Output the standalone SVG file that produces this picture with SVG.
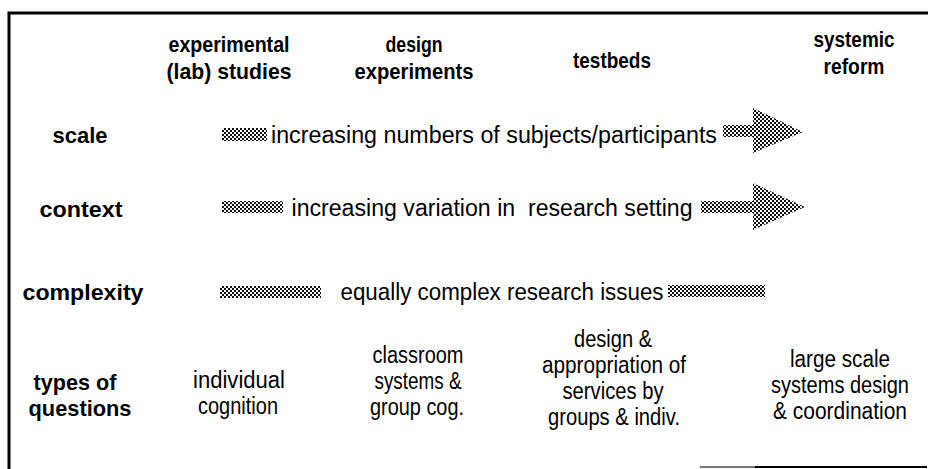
<svg xmlns="http://www.w3.org/2000/svg" width="928" height="469" viewBox="0 0 928 469">
<defs>
<pattern id="dots" width="4" height="4" patternUnits="userSpaceOnUse">
<rect width="4" height="4" fill="#fff"/>
<rect x="0" y="0" width="2" height="2" fill="#111"/>
<rect x="2" y="2" width="2" height="2" fill="#111"/>
</pattern>
</defs>
<style>
text{font-family:"Liberation Sans",Arial,sans-serif;fill:#000;text-anchor:middle;white-space:pre}
.b{font-weight:bold;font-size:22px}
.r{font-size:23px}
.sh{fill:url(#dots)}
.fr{stroke:#000;stroke-width:3;fill:none}
</style>
<g id="frame">
<path class="fr" d="M9,469 V13 H928"/>
<line x1="700" y1="467" x2="755" y2="467" stroke="#777" stroke-width="2"/>
<line x1="755" y1="467" x2="927" y2="467" stroke="#000" stroke-width="2"/>
</g>
<g id="headers">
<g id="h-lab"><text class="b" x="229" y="52" textLength="121" lengthAdjust="spacingAndGlyphs">experimental</text><text class="b" x="229" y="79" textLength="125" lengthAdjust="spacingAndGlyphs">(lab) studies</text></g>
<g id="h-design"><text class="b" x="414" y="52" textLength="57" lengthAdjust="spacingAndGlyphs">design</text><text class="b" x="414" y="79" textLength="119" lengthAdjust="spacingAndGlyphs">experiments</text></g>
<g id="h-testbeds"><text class="b" x="612" y="68" textLength="78" lengthAdjust="spacingAndGlyphs">testbeds</text></g>
<g id="h-reform"><text class="b" x="854" y="47" textLength="81" lengthAdjust="spacingAndGlyphs">systemic</text><text class="b" x="854" y="74" textLength="61" lengthAdjust="spacingAndGlyphs">reform</text></g>
</g>
<g id="labels">
<g id="l-scale"><text class="b" x="80" y="143" textLength="55" lengthAdjust="spacingAndGlyphs">scale</text></g>
<g id="l-context"><text class="b" x="81" y="217" textLength="83" lengthAdjust="spacingAndGlyphs">context</text></g>
<g id="l-complexity"><text class="b" x="83" y="300" textLength="121" lengthAdjust="spacingAndGlyphs">complexity</text></g>
<g id="l-types"><text class="b" x="75" y="390" textLength="83" lengthAdjust="spacingAndGlyphs">types of</text><text class="b" x="80" y="416" textLength="103" lengthAdjust="spacingAndGlyphs">questions</text></g>
</g>
<g id="connectors">
<g id="row-scale">
<rect class="sh" x="222" y="128" width="45" height="13"/>
<text class="r" x="494" y="143" textLength="446" lengthAdjust="spacingAndGlyphs">increasing numbers of subjects/participants</text>
<polygon class="sh" points="723,125 753,125 753,108 803,132 753,153 753,137 723,137"/>
</g>
<g id="row-context">
<rect class="sh" x="222" y="201" width="61" height="12"/>
<text class="r" x="492" y="216" textLength="401" lengthAdjust="spacingAndGlyphs">increasing variation in  research setting</text>
<polygon class="sh" points="701,201 753,201 753,183 805,207 753,230 753,213 701,213"/>
</g>
<g id="row-complexity">
<rect class="sh" x="220" y="286" width="101" height="12"/>
<text class="r" x="502" y="300" textLength="323" lengthAdjust="spacingAndGlyphs">equally complex research issues</text>
<rect class="sh" x="668" y="285" width="97" height="12"/>
</g>
</g>
<g id="questions">
<g id="q-lab"><text class="r" x="239" y="388" textLength="92" lengthAdjust="spacingAndGlyphs">individual</text><text class="r" x="238" y="414" textLength="80" lengthAdjust="spacingAndGlyphs">cognition</text></g>
<g id="q-design"><text class="r" x="418" y="363" textLength="91" lengthAdjust="spacingAndGlyphs">classroom</text><text class="r" x="418" y="389" textLength="87" lengthAdjust="spacingAndGlyphs">systems &amp;</text><text class="r" x="417" y="415" textLength="94" lengthAdjust="spacingAndGlyphs">group cog.</text></g>
<g id="q-testbeds"><text class="r" x="613" y="347" textLength="78" lengthAdjust="spacingAndGlyphs">design &amp;</text><text class="r" x="614" y="373" textLength="144" lengthAdjust="spacingAndGlyphs">appropriation of</text><text class="r" x="613" y="399" textLength="101" lengthAdjust="spacingAndGlyphs">services by</text><text class="r" x="614" y="425" textLength="132" lengthAdjust="spacingAndGlyphs">groups &amp; indiv.</text></g>
<g id="q-reform"><text class="r" x="840" y="367" textLength="100" lengthAdjust="spacingAndGlyphs">large scale</text><text class="r" x="840" y="393" textLength="138" lengthAdjust="spacingAndGlyphs">systems design</text><text class="r" x="840" y="419" textLength="134" lengthAdjust="spacingAndGlyphs">&amp; coordination</text></g>
</g>
</svg>
